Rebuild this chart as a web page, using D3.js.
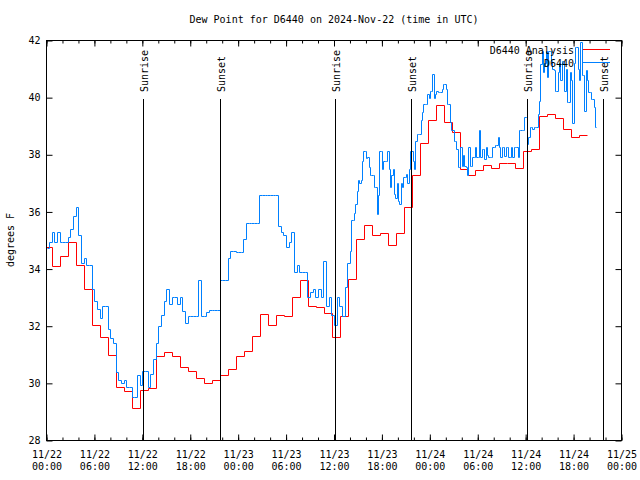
<!DOCTYPE html>
<html><head><meta charset="utf-8">
<script src="https://cdn.jsdelivr.net/npm/d3@7"></script>
<style>
body{margin:0;background:#fff}
svg{display:block}
text{font-family:"DejaVu Sans Mono","Liberation Mono",monospace;font-size:10px;fill:#000}
</style>
</head><body><svg id="c" width="640" height="480"></svg>
<script>
const title = "Dew Point for D6440 on 2024-Nov-22 (time in UTC)";
const yLabel = "degrees F";
const yTicks = [28, 30, 32, 34, 36, 38, 40, 42];
const seriesNames = ["D6440 Analysis", "D6440"];
const seriesColors = ["#ff0000", "#0080ff"];
const xDomain = ["2024-11-22T00:00:00Z", "2024-11-25T00:00:00Z"];

// Analysis: hourly values, first value valid from this time
const redStart = "2024-11-21T23:43:00Z";
const redValues = [
  34.77, 34.12, 34.47, 34.94, 34.16, 33.31, 32.05, 31.64, 31.00, 29.89,
  29.75, 29.14, 29.77, 29.84, 30.97, 31.11, 30.94, 30.59, 30.42, 30.19,
  30.02, 30.12, 30.30, 30.50, 30.95, 31.15, 31.67, 32.43, 32.03, 32.40,
  32.34, 33.04, 33.60, 32.70, 32.67, 32.47, 31.64, 32.34, 33.66, 35.06,
  35.53, 35.18, 35.26, 34.83, 35.26, 36.19, 37.28, 38.42, 39.20, 39.73,
  39.14, 38.79, 37.51, 37.30, 37.45, 37.65, 37.55, 37.72, 37.72, 37.52,
  38.15, 38.22, 39.35, 39.43, 39.29, 38.90, 38.64, 38.70
];

// Observations, part 1: one value every 20 minutes
const blueEarlyStart = "2024-11-22T00:00:00Z";
const blueEarly = [
  34.75, 34.95, 35.29,  34.94, 35.29, 34.94,  34.94, 34.94, 35.12,  35.41, 35.87, 36.17,
  35.18, 34.20, 34.40,  34.16, 34.16, 33.30,  32.90, 32.60, 32.30,  32.72, 32.72, 31.90,
  31.60, 31.41, 30.40,  30.10, 30.00, 30.12,  29.87, 29.87, 29.54,  29.54, 30.30, 29.95,
  30.45, 30.45, 29.87,  30.33, 30.86, 31.40,  32.00, 32.40, 32.90,  33.30, 32.78, 33.04,
  33.04, 32.78, 33.04,  32.55, 32.10, 32.34,  32.34, 32.34, 32.34,  33.60, 32.34, 32.34,
  32.49, 32.57, 32.57,  32.57, 32.57, 33.60,  33.60, 33.60, 34.40,  34.62, 34.65, 34.60,
  34.59, 34.59, 35.06,  35.61, 35.61, 35.61,  35.61, 35.61, 36.58,  36.58, 36.58, 36.58,
  36.58, 36.58, 36.58,  35.50, 35.29, 35.20,  34.77, 34.94, 35.30,  33.89, 34.15, 33.89,
  33.89, 33.89, 33.02,  33.19, 33.31, 33.02,  33.31, 33.02, 34.30,  32.72, 33.02, 32.40,
  32.03, 33.02, 32.72,  32.37, 33.37, 34.20
];

// Observations, part 2: one value every 10 minutes
const blueLateStart = "2024-11-23T14:00:00Z";
const blueLate = [
  34.65, 35.70, 35.70, 35.95, 36.28, 36.75, 37.10, 37.00, 37.10, 37.80,
  38.15, 38.15, 37.90, 37.92, 37.57, 37.28, 37.28, 37.28, 36.87, 36.87,
  35.94, 36.60, 38.15, 38.15, 37.50, 37.80, 37.80, 37.80, 38.15, 37.50,
  36.87, 37.30, 37.50, 36.63, 36.50, 37.00, 36.40, 36.28, 37.00, 36.87,
  37.22, 37.22, 37.33, 37.00, 37.50, 38.15, 38.15, 37.80, 37.50, 38.50,
  38.73, 38.73, 38.73, 39.20, 39.49, 39.79, 39.79, 39.79, 40.13, 40.00,
  40.25, 40.25, 40.83, 40.00, 40.13, 40.25, 40.20, 40.20, 40.20, 40.30,
  40.48, 40.48, 40.30, 39.79, 39.79, 39.15, 38.85, 38.85, 38.50, 38.50,
  38.20, 37.57, 37.57, 38.27, 37.60, 38.00, 37.60, 37.57, 37.28, 38.27,
  37.60, 37.60, 37.92, 37.92, 38.27, 37.92, 37.92, 38.85, 37.92, 38.20,
  38.20, 37.85, 38.27, 38.00, 37.92, 37.92, 37.92, 38.27, 38.27, 38.35,
  38.35, 38.62, 38.27, 37.92, 38.27, 38.27, 37.95, 38.27, 38.27, 37.92,
  37.92, 38.27, 37.92, 38.27, 38.27, 38.27, 37.92, 38.87, 38.87, 38.87,
  38.87, 39.31, 39.31, 38.38, 38.62, 38.97, 38.97, 38.90, 38.97, 38.97,
  38.97, 39.43, 39.90, 41.19, 41.65, 40.90, 41.20, 41.65, 40.72, 41.65,
  41.65, 41.30, 41.00, 40.95, 40.25, 40.25, 40.90, 41.20, 40.60, 41.30,
  41.30, 40.25, 41.00, 39.84, 39.84, 40.90, 40.60, 39.10, 41.20, 41.77,
  41.77, 41.00, 40.60, 41.94, 40.80, 40.80, 39.55, 40.95, 40.60, 40.19,
  40.19, 39.96, 39.96, 39.67, 38.97
];

const sunLabels = ["Sunrise", "Sunset", "Sunrise", "Sunset", "Sunrise", "Sunset"];
const sunTimes = ["2024-11-22T12:07:00Z", "2024-11-22T21:40:00Z", "2024-11-23T12:06:00Z",
                  "2024-11-23T21:37:00Z", "2024-11-24T12:08:00Z", "2024-11-24T21:43:00Z"];

const svg = d3.select("#c");
const L = 46.5, R = 621.5, T = 40.5, B = 440.5;
const x = d3.scaleUtc().domain(xDomain.map(d => new Date(d))).range([L, R]);
const y = d3.scaleLinear().domain([28, 42]).range([B, T]);

svg.append("defs").append("clipPath").attr("id", "clip")
  .append("rect").attr("x", L).attr("y", T).attr("width", R - L).attr("height", B - T);

// title + y label
svg.append("text").attr("x", 334).attr("y", 23).attr("text-anchor", "middle").text(title);
svg.append("text").attr("transform", "translate(14,240) rotate(-90)")
  .attr("text-anchor", "middle").text(yLabel);

// axes (ticks inside, mirrored)
const minor = d3.utcHour.every(2), major = d3.utcHour.every(6);
svg.append("g").attr("transform", `translate(0,${B})`)
  .call(d3.axisBottom(x).ticks(minor).tickSize(-3).tickFormat(""));
svg.append("g").attr("transform", `translate(0,${T})`)
  .call(d3.axisTop(x).ticks(minor).tickSize(-3).tickFormat(""));
svg.append("g").attr("transform", `translate(0,${T})`)
  .call(d3.axisTop(x).ticks(major).tickSize(-6).tickFormat(""));
const gxb = svg.append("g").attr("transform", `translate(0,${B})`)
  .call(d3.axisBottom(x).ticks(major).tickSize(-6).tickPadding(0));
const f1 = d3.utcFormat("%m/%d"), f2 = d3.utcFormat("%H:%M");
gxb.selectAll(".tick text").each(function(d) {
  const t = d3.select(this).text("").attr("dy", null).attr("y", 0);
  t.append("tspan").attr("x", 0).attr("y", 17).text(f1(d));
  t.append("tspan").attr("x", 0).attr("y", 29).text(f2(d));
});
svg.append("g").attr("transform", `translate(${L},0)`)
  .call(d3.axisLeft(y).tickValues(yTicks).tickSize(-6).tickPadding(6).tickFormat(d3.format("d")));
svg.append("g").attr("transform", `translate(${R},0)`)
  .call(d3.axisRight(y).tickValues(yTicks).tickSize(-6).tickFormat(""));
svg.selectAll(".domain").remove();
svg.selectAll(".tick line").attr("stroke", "#000");
svg.selectAll(".tick text").attr("fill", "#000").style("font-size", "10px")
  .style("font-family", '"DejaVu Sans Mono","Liberation Mono",monospace');

// data
const minute = 60e3, hour = 60 * minute;
const r0 = new Date(redStart).getTime();
const redData = redValues.map((v, i) => ({t: new Date(r0 + i * hour), v}));
redData.push({t: new Date(r0 + redValues.length * hour), v: redValues[redValues.length - 1]});
const e0 = new Date(blueEarlyStart).getTime();
const l0 = new Date(blueLateStart).getTime();
const blueData = blueEarly.map((v, i) => ({t: new Date(e0 + i * 20 * minute), v}))
  .concat(blueLate.map((v, i) => ({t: new Date(l0 + i * 10 * minute), v})));
blueData.push({t: new Date(l0 + blueLate.length * 10 * minute - 5 * minute), v: blueLate[blueLate.length - 1]});

const line = d3.line().x(d => Math.round(x(d.t)) + 0.5).y(d => Math.round(y(d.v)) + 0.5).curve(d3.curveStepAfter);
const gl = svg.append("g").attr("clip-path", "url(#clip)");
gl.append("path").datum(redData).attr("d", line).attr("fill", "none")
  .attr("stroke", seriesColors[0]).attr("stroke-width", 1);
gl.append("path").datum(blueData).attr("d", line).attr("fill", "none")
  .attr("stroke", seriesColors[1]).attr("stroke-width", 1);

// sunrise / sunset
sunTimes.forEach((s, i) => {
  const xs = Math.round(x(new Date(s))) + 0.5;
  svg.append("line").attr("x1", xs).attr("x2", xs).attr("y1", 99).attr("y2", B)
    .attr("stroke", "#000");
  svg.append("text").attr("transform", `translate(${xs + 4},92) rotate(-90)`)
    .attr("text-anchor", "start").text(sunLabels[i]);
});

// border
svg.append("rect").attr("x", L).attr("y", T).attr("width", R - L).attr("height", B - T)
  .attr("fill", "none").attr("stroke", "#000");

// legend
seriesNames.forEach((n, i) => {
  const ly = 49.5 + i * 13;
  svg.append("text").attr("x", 574).attr("y", ly + 4).attr("text-anchor", "end").text(n);
  svg.append("line").attr("x1", 583).attr("x2", 610).attr("y1", ly).attr("y2", ly)
    .attr("stroke", seriesColors[i]).attr("stroke-width", 1);
});
</script></body></html>
